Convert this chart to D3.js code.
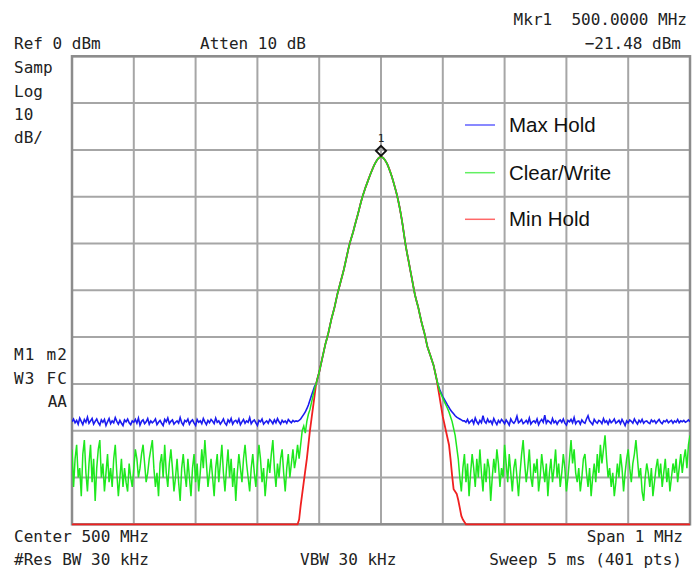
<!DOCTYPE html>
<html>
<head>
<meta charset="utf-8">
<script src="https://cdn.jsdelivr.net/npm/d3@7/dist/d3.min.js"></script>
<style>
  body { margin: 0; background: #fff; }
  .mono { font-family: "DejaVu Sans Mono", monospace; font-size: 16px; fill: #222; }
  .leg { font-family: "Liberation Sans", Arial, sans-serif; font-size: 20.5px; fill: #111; }
</style>
</head>
<body>
<div id="chart"></div>
<script>
// sweep: 401 points over center 500 MHz +/- 0.5 MHz, ref 0 dBm, 10 dB/div
const nPts = 401;
const refLevel = 0;
const bottomLevel = -100;

// max hold (blue) noise floor, left part (pts 0..145)
const maxHoldLeft = [
  -78.1,-77.5,-78.3,-77.8,-78.6,-77.3,-78.0,-78.7,-77.6,-78.2,
  -77.1,-78.4,-77.9,-77.4,-78.6,-78.0,-77.5,-78.3,-78.8,-77.7,
  -78.2,-77.6,-78.9,-78.1,-77.4,-78.5,-77.9,-78.3,-77.2,-78.0,
  -78.6,-77.8,-78.4,-78.9,-77.7,-78.1,-77.5,-78.3,-78.7,-77.9,
  -78.2,-77.6,-78.4,-77.3,-78.8,-78.0,-77.7,-78.5,-78.1,-77.4,
  -78.6,-77.9,-78.3,-78.0,-77.5,-78.7,-78.2,-77.8,-78.4,-78.9,
  -77.6,-78.1,-77.3,-78.5,-78.0,-77.7,-78.6,-78.2,-77.9,-78.4,
  -77.2,-78.3,-78.8,-77.8,-78.1,-77.5,-78.6,-78.0,-77.7,-78.4,
  -78.9,-77.6,-78.2,-77.9,-78.5,-77.4,-78.1,-78.7,-77.8,-78.3,
  -77.6,-78.0,-78.5,-77.3,-78.2,-77.9,-78.6,-78.1,-77.5,-78.4,
  -78.8,-77.7,-78.2,-77.4,-78.6,-78.0,-77.8,-78.3,-77.5,-78.7,
  -78.1,-77.6,-78.4,-77.9,-78.2,-77.2,-78.5,-78.0,-77.7,-78.3,
  -78.9,-77.8,-78.1,-77.5,-78.6,-78.2,-77.9,-78.4,-77.6,-78.0,
  -78.5,-77.7,-78.3,-77.4,-78.1,-78.6,-77.8,-78.2,-77.9,-78.4,
  -77.6,-78.0,-78.3,-77.8,-78.1,-77.9
];
// max hold left skirt (pts 146..157)
const maxHoldSkirtL = [-78.0,-77.8,-77.5,-77.0,-76.5,-76.0,-75.3,-74.5,-73.5,-72.5,-71.5,-70.5];

// signal core shared by all three traces (pts 158..236)
const signalCore = [
  -70.0,-68.7,-67.5,-66.0,-64.5,-63.0,-61.5,-60.3,-59.0,-57.5,
  -56.0,-54.8,-53.5,-52.0,-50.5,-49.3,-48.0,-46.8,-45.5,-44.0,
  -42.5,-41.0,-39.7,-38.6,-37.5,-36.2,-35.0,-33.8,-32.5,-31.2,
  -30.0,-29.0,-28.0,-27.1,-26.2,-25.3,-24.5,-23.7,-23.0,-22.4,
  -21.9,-21.6,-21.48,-21.6,-21.9,-22.4,-23.0,-23.8,-24.7,-25.7,
  -26.8,-28.0,-29.2,-30.6,-32.2,-34.0,-36.0,-38.3,-40.5,-42.3,
  -44.0,-45.8,-47.5,-49.3,-51.0,-52.3,-53.5,-55.0,-56.5,-57.8,
  -59.0,-60.5,-62.0,-63.0,-64.0,-65.0,-66.0,-67.5,-69.0
];

// max hold right skirt (pts 237..253)
const maxHoldSkirtR = [-70.3,-71.2,-72.0,-72.7,-73.3,-73.9,-74.5,-75.0,-75.6,-76.0,-76.4,-76.8,-77.1,-77.3,-77.5,-77.7,-77.9];
// max hold noise floor, right part (pts 254..400)
const maxHoldRight = [
  -77.9,-78.2,-77.6,-78.4,-78.0,-77.7,-78.5,-77.3,-78.1,-78.6,
  -77.8,-78.3,-76.8,-78.0,-78.4,-77.5,-78.2,-77.9,-78.6,-77.4,
  -78.1,-78.7,-77.8,-78.3,-77.6,-78.0,-78.5,-77.7,-78.2,-78.8,
  -77.5,-78.1,-78.4,-77.9,-76.9,-78.3,-78.0,-77.6,-78.5,-78.2,
  -77.8,-78.4,-77.3,-78.6,-78.1,-77.9,-78.3,-77.5,-78.7,-78.0,
  -77.6,-78.2,-76.7,-78.4,-77.8,-78.1,-78.5,-77.4,-78.3,-77.9,
  -78.6,-78.0,-77.7,-78.2,-77.5,-78.4,-78.8,-77.8,-78.1,-77.6,
  -78.3,-77.2,-78.5,-78.0,-77.9,-78.6,-77.7,-78.2,-78.4,-77.5,
  -76.8,-77.9,-78.3,-78.7,-77.6,-78.1,-78.4,-77.8,-78.0,-78.5,
  -77.4,-78.2,-77.9,-78.6,-77.7,-78.3,-78.0,-77.5,-78.4,-78.1,
  -77.8,-78.5,-77.6,-78.2,-78.9,-77.9,-78.3,-77.7,-78.0,-78.4,
  -77.5,-78.1,-78.6,-77.8,-78.2,-77.6,-78.4,-78.0,-77.9,-78.3,
  -78.5,-77.7,-78.1,-77.8,-78.4,-78.0,-77.6,-78.2,-78.5,-77.9,
  -78.1,-77.7,-78.3,-78.0,-77.8,-78.4,-77.9,-78.2,-77.6,-78.3,
  -77.9,-78.1,-77.8,-78.2,-78.0,-77.7,-78.1
];

// clear/write (green) noise, left part (pts 0..147)
const clearWriteLeft = [
  -84,-92,-86,-83,-90,-88,-94,-85,-82,-89,
  -93,-87,-83,-91,-86,-95,-88,-84,-82,-90,
  -87,-93,-89,-85,-91,-88,-92,-86,-83,-89,
  -94,-90,-86,-92,-88,-91,-93,-87,-90,-92,
  -88,-84,-86,-90,-88,-85,-83,-87,-91,-89,
  -86,-84,-82,-88,-92,-89,-94,-87,-85,-90,
  -83,-89,-92,-87,-84,-88,-93,-90,-86,-91,
  -95,-88,-85,-89,-92,-86,-90,-94,-88,-85,
  -91,-87,-93,-89,-84,-88,-82,-87,-92,-89,
  -86,-90,-94,-88,-85,-91,-87,-83,-89,-93,
  -88,-84,-90,-86,-92,-88,-95,-89,-85,-88,
  -91,-86,-83,-87,-90,-93,-88,-85,-89,-92,
  -87,-83,-86,-91,-88,-94,-90,-86,-89,-85,
  -82,-88,-92,-87,-90,-86,-84,-89,-93,-88,
  -85,-90,-87,-84,-88,-86,-83,-86
];
// clear/write left skirt (pts 148..157)
const clearWriteSkirtL = [-83.0,-80.0,-79.0,-80.5,-78.0,-76.5,-75.5,-74.0,-72.5,-71.0];
// clear/write right skirt (pts 237..249)
const clearWriteSkirtR = [-70.3,-71.5,-72.3,-73.0,-73.8,-74.5,-75.2,-76.0,-77.0,-78.0,-79.5,-81.0,-83.5];
// clear/write noise, right part (pts 250..400)
const clearWriteRight = [
  -86,-90,-93,-88,-85,-91,-87,-94,-89,-85,
  -88,-92,-86,-90,-84,-89,-93,-87,-91,-86,
  -88,-95,-90,-86,-89,-84,-87,-92,-88,-90,
  -83,-87,-91,-85,-89,-93,-88,-86,-90,-94,
  -89,-85,-82,-87,-91,-88,-84,-90,-92,-87,
  -89,-86,-93,-90,-85,-88,-91,-87,-94,-89,
  -86,-91,-88,-84,-90,-87,-92,-89,-85,-88,
  -93,-90,-86,-82,-87,-84,-89,-91,-88,-93,
  -90,-86,-85,-89,-92,-88,-94,-90,-87,-91,
  -85,-89,-83,-87,-84,-81,-86,-90,-88,-92,
  -89,-94,-91,-87,-90,-85,-88,-93,-89,-86,
  -84,-88,-91,-87,-85,-82,-86,-90,-88,-93,
  -95,-90,-87,-89,-92,-88,-94,-91,-88,-86,
  -90,-87,-92,-89,-86,-91,-88,-93,-90,-87,
  -89,-86,-91,-88,-85,-89,-86,-84,-88,-83,
  -81
];

// min hold (red): sits on the bottom line outside the signal
const minHoldFloorL = [[0, -100], [146, -100]];
const minHoldSkirtL = [-99.0,-96.0,-93.5,-91.0,-88.5,-86.0,-83.0,-80.0,-77.5,-75.0,-72.5]; // pts 147..157
const minHoldSkirtR = [-71.0,-73.0,-75.0,-77.0,-78.5,-80.0,-81.5,-83.0,-86.0,-89.5,-92.5,-93.0,-93.5,-94.8,-96.5,-98.2,-99.0,-99.5,-100]; // pts 237..255
const minHoldFloorR = [[255, -100], [400, -100]];

const legendNames = ["Max Hold", "Clear/Write", "Min Hold"];

// helpers: turn a value run into [pointIndex, dBm] pairs
function run(start, vals) { return vals.map((v, i) => [start + i, v]); }

const maxHold = [].concat(run(0, maxHoldLeft), run(146, maxHoldSkirtL), run(158, signalCore),
                          run(237, maxHoldSkirtR), run(254, maxHoldRight));
const clearWrite = [].concat(run(0, clearWriteLeft), run(148, clearWriteSkirtL), run(158, signalCore),
                             run(237, clearWriteSkirtR), run(250, clearWriteRight));
const minHold = [].concat(minHoldFloorL, run(147, minHoldSkirtL), run(158, signalCore),
                          run(237, minHoldSkirtR), minHoldFloorR);

const W = 692, H = 577;
const plotL = 72, plotR = 690, plotT = 56.3, plotB = 524.3;

const svg = d3.select("#chart").append("svg").attr("width", W).attr("height", H);

const x = d3.scaleLinear().domain([0, nPts - 1]).range([plotL, plotR]);
const y = d3.scaleLinear().domain([refLevel, bottomLevel]).range([plotT, plotB]);

// graticule: 10 x 10
const gx = d3.scaleLinear().domain([0, 10]).range([plotL, plotR]);
const grid = svg.append("g");
grid.selectAll("line.v").data(d3.range(0, 11)).join("line")
  .attr("x1", d => gx(d)).attr("x2", d => gx(d))
  .attr("y1", plotT).attr("y2", plotB)
  .attr("stroke", "#a6a6a6").attr("stroke-width", 2);
grid.selectAll("line.h").data(y.ticks(10)).join("line")
  .attr("x1", plotL).attr("x2", plotR)
  .attr("y1", d => y(d)).attr("y2", d => y(d))
  .attr("stroke", "#a6a6a6").attr("stroke-width", 2);
grid.append("rect").attr("x", plotL).attr("y", plotT)
  .attr("width", plotR - plotL).attr("height", plotB - plotT)
  .attr("fill", "none").attr("stroke", "#8c8c8c").attr("stroke-width", 2.5);

svg.append("clipPath").attr("id", "plot").append("rect")
  .attr("x", plotL).attr("y", plotT - 2).attr("width", plotR - plotL).attr("height", plotB - plotT + 4);

const line = d3.line().x(d => x(d[0])).y(d => y(d[1]));
const traces = svg.append("g").attr("clip-path", "url(#plot)");
traces.append("path").datum(maxHold).attr("d", line)
  .attr("fill", "none").attr("stroke", "#1c1cf0").attr("stroke-width", 1.6);
traces.append("path").datum(minHold).attr("d", line)
  .attr("fill", "none").attr("stroke", "#f02020").attr("stroke-width", 1.8);
traces.append("path").datum(clearWrite).attr("d", line)
  .attr("fill", "none").attr("stroke", "#1ee81e").attr("stroke-width", 1.5);

// marker 1 on the peak
const peakIdx = 200;
const mx = x(peakIdx), my = y(-20.2);
svg.append("path")
  .attr("d", `M${mx},${my - 5}L${mx + 5},${my}L${mx},${my + 5}L${mx - 5},${my}Z`)
  .attr("fill", "none").attr("stroke", "#111").attr("stroke-width", 2);
svg.append("text").attr("x", mx).attr("y", my - 9).attr("text-anchor", "middle")
  .attr("font-family", "DejaVu Sans Mono, monospace").attr("font-size", 11).attr("fill", "#222").text("1");

// legend
const legColors = ["#6262ff", "#62f062", "#ff6868"];
const legY = [125, 172.7, 219.3];
legendNames.forEach((name, i) => {
  svg.append("line").attr("x1", 465).attr("x2", 495).attr("y1", legY[i]).attr("y2", legY[i])
    .attr("stroke", legColors[i]).attr("stroke-width", 1.5);
  svg.append("text").attr("class", "leg").attr("x", 509).attr("y", legY[i] + 7).text(name);
});

// annotations
function label(txt, tx, ty, anchor, len) {
  const t = svg.append("text").attr("class", "mono").attr("x", tx).attr("y", ty)
    .attr("text-anchor", anchor || "start").attr("xml:space", "preserve").text(txt);
  if (len) t.attr("textLength", len).attr("lengthAdjust", "spacing");
}
label("Mkr1  500.0000 MHz", 687, 25, "end");
label("\u221221.48 dBm", 681, 49, "end");
label("Ref 0 dBm", 14, 49);
label("Atten 10 dB", 200, 49);
label("Samp", 14, 73);
label("Log", 14, 96.5);
label("10", 14, 120);
label("dB/", 14, 143);
label("M1 m2", 14, 360, "start", 53);
label("W3 FC", 14, 383.5, "start", 53);
label("AA", 67, 407, "end");
label("Center 500 MHz", 14, 542);
label("#Res BW 30 kHz", 14, 565);
label("Span 1 MHz", 683, 542, "end");
label("VBW 30 kHz", 300, 565);
label("Sweep 5 ms (401 pts)", 682, 565, "end");
</script>
</body>
</html>
